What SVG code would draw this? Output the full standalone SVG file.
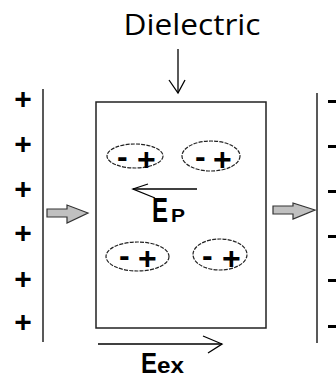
<svg xmlns="http://www.w3.org/2000/svg" width="336" height="379" viewBox="0 0 336 379">
<style>
.ln{stroke:#000;stroke-width:1.3;fill:none}
.plate{stroke:#222;stroke-width:1.5;fill:none}
.sign{font-family:"Liberation Sans",Arial,sans-serif;font-weight:bold;font-size:30px;fill:#000}
.dip{font-family:"Liberation Sans",Arial,sans-serif;font-weight:bold;font-size:32px;fill:#000}
.ell{stroke:#222;stroke-width:1.2;fill:none;stroke-dasharray:4 1.2}
.lbl{font-family:"Liberation Sans",Arial,sans-serif;font-weight:bold;fill:#000}
.garrow{fill:#c0c0c0;stroke:#333;stroke-width:1.2}
</style>
<rect width="336" height="379" fill="#fff"/>
<g id="title">
<text x="192" y="35" text-anchor="middle" font-family="Open Sans,Liberation Sans,sans-serif" font-size="30" textLength="137" lengthAdjust="spacingAndGlyphs">Dielectric</text>
</g>
<g id="left-plate">
<line class="plate" x1="43" y1="89" x2="43" y2="342"/>
<text class="sign" x="23" y="108.5" text-anchor="middle">+</text>
<text class="sign" x="23" y="153.5" text-anchor="middle">+</text>
<text class="sign" x="23" y="198.5" text-anchor="middle">+</text>
<text class="sign" x="23" y="242.5" text-anchor="middle">+</text>
<text class="sign" x="23" y="288.5" text-anchor="middle">+</text>
<text class="sign" x="23" y="331.5" text-anchor="middle">+</text>
</g>
<g id="right-plate">
<line class="plate" x1="317" y1="93" x2="317" y2="343"/>
<rect x="328" y="100" width="9" height="3" fill="#000"/>
<rect x="328" y="145" width="9" height="3" fill="#000"/>
<rect x="328" y="190" width="9" height="3" fill="#000"/>
<rect x="328" y="235" width="9" height="3" fill="#000"/>
<rect x="328" y="279" width="9" height="3" fill="#000"/>
<rect x="328" y="325" width="9" height="3" fill="#000"/>
</g>
<g id="dielectric">
<rect x="96" y="102" width="170" height="226" fill="none" stroke="#222" stroke-width="1.5"/>
</g>
<g id="dipole1">
<ellipse class="ell" cx="135" cy="156" rx="28" ry="12"/>
<text class="dip"><tspan x="117" y="166.5">-</tspan><tspan x="137" y="170">+</tspan></text>
</g>
<g id="dipole2">
<ellipse class="ell" cx="211" cy="156" rx="29" ry="15"/>
<text class="dip"><tspan x="195" y="166.5">-</tspan><tspan x="213" y="170">+</tspan></text>
</g>
<g id="dipole3">
<ellipse class="ell" cx="137.5" cy="256.5" rx="31.5" ry="14.5"/>
<text class="dip"><tspan x="119" y="265.5">-</tspan><tspan x="138" y="268.5">+</tspan></text>
</g>
<g id="dipole4">
<ellipse class="ell" cx="220" cy="254.5" rx="27" ry="15.5"/>
<text class="dip"><tspan x="202" y="265.5">-</tspan><tspan x="222" y="268.5">+</tspan></text>
</g>
<g id="labels">
<text class="lbl" y="222"><tspan x="152" font-size="35" textLength="16" lengthAdjust="spacingAndGlyphs">E</tspan><tspan x="171" font-size="18" textLength="14" lengthAdjust="spacingAndGlyphs">P</tspan></text>
<text class="lbl" y="372.5"><tspan x="141" font-size="30" textLength="16" lengthAdjust="spacingAndGlyphs">E</tspan><tspan x="157" font-size="22" textLength="27" lengthAdjust="spacingAndGlyphs">ex</tspan></text>
</g>
<g id="connectors">
<line class="ln" x1="178" y1="49" x2="178" y2="93"/>
<polyline class="ln" points="169,80 178,93 185,80"/>
<line class="ln" x1="133" y1="189" x2="197" y2="189"/>
<polyline class="ln" points="148,184 133,189 155,198"/>
<line class="ln" x1="98" y1="344" x2="222" y2="344"/>
<polyline class="ln" points="203,336 222,344 208,353"/>
<polygon class="garrow" points="47,209 67,209 67,205 88,213 67,223 67,217 47,217"/>
<polygon class="garrow" points="273,206 293,206 293,203 315,210 293,219 293,214 273,214"/>
</g>
</svg>
